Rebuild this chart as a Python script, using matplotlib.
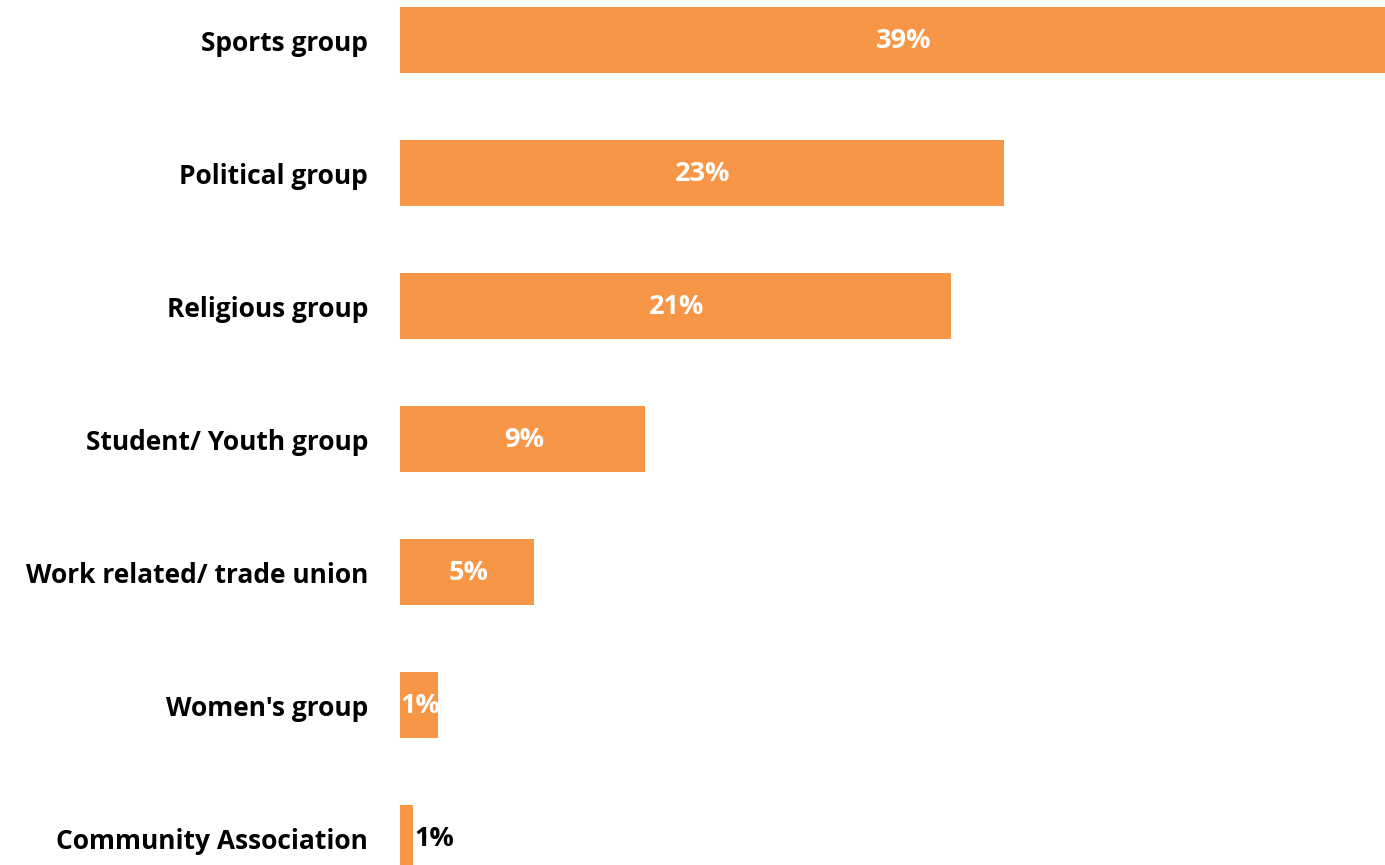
import matplotlib
matplotlib.use("Agg")
import matplotlib.pyplot as plt

categories = ["Sports group", "Political group", "Religious group",
              "Student/ Youth group", "Work related/ trade union",
              "Women's group", "Community Association"]
values = [39.8, 23.9, 21.8, 9.7, 5.3, 1.5, 0.5]
value_labels = ["39%", "23%", "21%", "9%", "5%", "1%", "1%"]

plt.rcParams['font.family'] = ['Open Sans', 'DejaVu Sans']

fig = plt.figure(figsize=(13.85, 8.65), dpi=100)
ax = fig.add_axes([400 / 1385, 0, 985 / 1385, 1])

ypos = list(range(len(categories)))
bars = ax.barh(ypos, values, height=0.5, color='#F79646')

for i, (v, lab) in enumerate(zip(values, value_labels)):
    if v < 1:
        ax.text(v + 0.08, i + 0.01, lab, ha='left', va='center', fontsize=19.5,
                fontweight='bold', color='black')
    else:
        ax.text(v / 2 + 0.05, i + 0.01, lab, ha='center', va='center', fontsize=19.5,
                fontweight='bold', color='white')

# the top bar runs past the right edge, as in the original
ax.set_xlim(0, 39)
ax.set_ylim(6.203, -0.3008)
ax.set_yticks(ypos)
ax.set_yticklabels(categories, fontsize=19, fontweight='bold')
ax.tick_params(axis='y', length=0, pad=23)
ax.set_xticks([])
for s in ax.spines.values():
    s.set_visible(False)

fig.savefig("out.png", dpi=100)
